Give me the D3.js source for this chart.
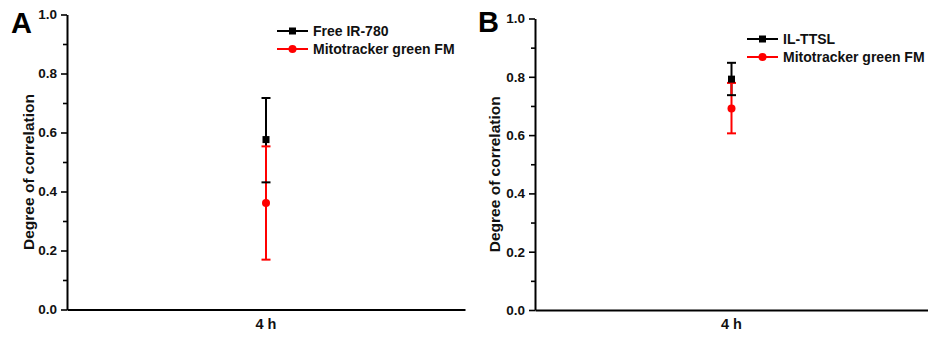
<!DOCTYPE html>
<html>
<head>
<meta charset="utf-8">
<script src="https://cdn.jsdelivr.net/npm/d3@7"></script>
<style>
  html, body { margin: 0; padding: 0; background: #fff; }
  svg { display: block; font-family: Arial, "Liberation Sans", sans-serif; }
</style>
</head>
<body>
<svg id="chart" width="928" height="340"></svg>
<script>
// ---- data ----
const categories = ["4 h"];
const yTicks = [0, 0.2, 0.4, 0.6, 0.8, 1.0];
const yMinorTicks = [0.1, 0.3, 0.5, 0.7, 0.9];

const panelLabels = ["A", "B"];
const blackSeriesNames = ["Free IR-780", "IL-TTSL"];
const redSeriesName = "Mitotracker green FM";

// mean, error bar low, error bar high (per panel)
const blackMeans = [0.576, 0.792];
const blackLow = [0.431, 0.737];
const blackHigh = [0.717, 0.848];
const redMeans = [0.361, 0.691];
const redLow = [0.169, 0.606];
const redHigh = [0.553, 0.779];

const svg = d3.select("#chart");

const panels = [
  { left: 67, right: 465, top: 14.5, bottom: 309.5, labelX: 11, labelY: 33,
    titleX: 30, legX: 277, legY: 31 },
  { left: 535, right: 928, top: 18.5, bottom: 310, labelX: 478, labelY: 32,
    titleX: 496, legX: 747, legY: 39 }
];

panels.forEach((p, i) => {
  const g = svg.append("g");
  const y = d3.scaleLinear().domain([0, 1]).range([p.bottom, p.top]);
  const x = d3.scaleBand().domain(categories).range([p.left, p.right]);
  const cx = x(categories[0]) + x.bandwidth() / 2;

  // minor ticks
  const minorAxis = d3.axisLeft(y).tickValues(yMinorTicks).tickSize(4).tickFormat("");
  const gm = g.append("g").attr("transform", `translate(${p.left},0)`).call(minorAxis);
  gm.select(".domain").remove();
  gm.selectAll("line").attr("stroke", "#000").attr("stroke-width", 1.6);

  // major y axis
  const yAxis = d3.axisLeft(y).tickValues(yTicks).tickSize(6).tickPadding(4)
    .tickSizeOuter(0).tickFormat(d3.format(".1f"));
  const gy = g.append("g").attr("transform", `translate(${p.left},0)`).call(yAxis);
  gy.select(".domain").attr("stroke", "#000").attr("stroke-width", 2);
  gy.selectAll(".tick line").attr("stroke", "#000").attr("stroke-width", 1.6);
  gy.selectAll(".tick text").attr("fill", "#111").style("font-size", "13.5px")
    .style("font-weight", "bold");

  // x axis
  const xAxis = d3.axisBottom(x).tickSize(0).tickSizeOuter(0).tickPadding(9);
  const gx = g.append("g").attr("transform", `translate(0,${p.bottom})`).call(xAxis);
  gx.select(".domain").attr("stroke", "#000").attr("stroke-width", 2);
  gx.selectAll(".tick text").attr("fill", "#111").style("font-size", "14.5px")
    .style("font-weight", "bold");

  // axis title
  g.append("text")
    .attr("transform", `translate(${p.titleX},${(p.top + p.bottom) / 2 + 10}) rotate(-90)`)
    .attr("text-anchor", "middle")
    .attr("dominant-baseline", "middle")
    .style("font-size", "15.5px").style("font-weight", "bold").attr("fill", "#111")
    .text("Degree of correlation");

  // panel label
  g.append("text").attr("x", p.labelX).attr("y", p.labelY)
    .style("font-size", "29px").style("font-weight", "bold").attr("fill", "#000")
    .text(panelLabels[i]);

  const cap = 4.5;
  // vertical error lines
  g.append("line").attr("x1", cx).attr("x2", cx)
    .attr("y1", y(blackLow[i])).attr("y2", y(blackHigh[i]))
    .attr("stroke", "#000").attr("stroke-width", 2);
  g.append("line").attr("x1", cx).attr("x2", cx)
    .attr("y1", y(redLow[i])).attr("y2", y(redHigh[i]))
    .attr("stroke", "#f00").attr("stroke-width", 2);
  // caps
  [[blackLow[i], "#000"], [blackHigh[i], "#000"], [redLow[i], "#f00"], [redHigh[i], "#f00"]]
    .forEach(([v, c]) => {
      g.append("line").attr("x1", cx - cap).attr("x2", cx + cap)
        .attr("y1", y(v)).attr("y2", y(v))
        .attr("stroke", c).attr("stroke-width", 2);
    });
  // markers
  g.append("rect").attr("x", cx - 3.5).attr("y", y(blackMeans[i]) - 3.5)
    .attr("width", 7).attr("height", 7).attr("fill", "#000");
  g.append("circle").attr("cx", cx).attr("cy", y(redMeans[i])).attr("r", 4)
    .attr("fill", "#f00");

  // legend
  const legend = [
    { name: blackSeriesNames[i], color: "#000", shape: "square" },
    { name: redSeriesName, color: "#f00", shape: "circle" }
  ];
  legend.forEach((d, j) => {
    const ly = p.legY + j * 18;
    const lg = g.append("g");
    lg.append("line").attr("x1", p.legX).attr("x2", p.legX + 31)
      .attr("y1", ly).attr("y2", ly).attr("stroke", d.color).attr("stroke-width", 2);
    const mx = p.legX + 15.5;
    if (d.shape === "square") {
      lg.append("rect").attr("x", mx - 3.5).attr("y", ly - 3.5)
        .attr("width", 7).attr("height", 7).attr("fill", d.color);
    } else {
      lg.append("circle").attr("cx", mx).attr("cy", ly).attr("r", 4).attr("fill", d.color);
    }
    lg.append("text").attr("x", p.legX + 36).attr("y", ly)
      .attr("dominant-baseline", "central")
      .style("font-size", "14px").style("font-weight", "bold").attr("fill", "#111")
      .text(d.name);
  });
});
</script>
</body>
</html>
